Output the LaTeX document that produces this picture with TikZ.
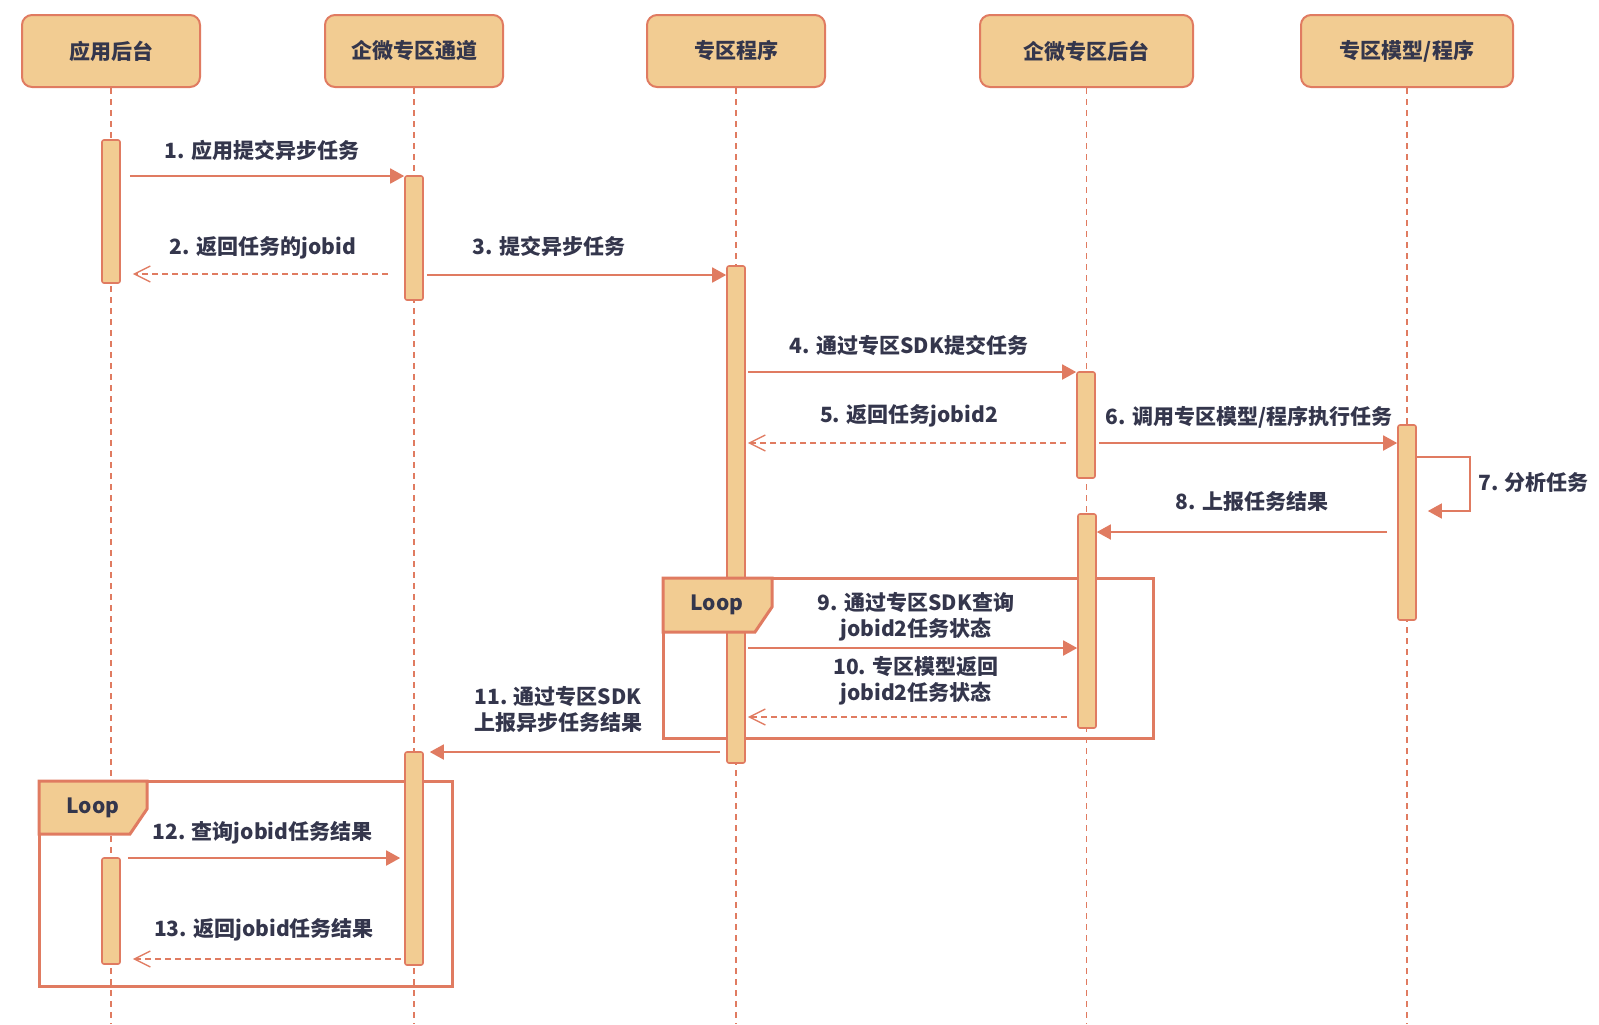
\documentclass[tikz,border=0pt]{standalone}
\usepackage{fontspec}
\setmainfont{Noto Sans CJK SC}
\usepackage{xcolor}
\definecolor{boxfill}{RGB}{242,204,146}
\definecolor{boxline}{RGB}{224,123,97}
\definecolor{labeltext}{RGB}{52,54,76}
\usetikzlibrary{arrows.meta,calc}

\begin{document}
\begin{tikzpicture}[
  x=0.5pt, y=-0.5pt,
  font=\fontsize{10.5}{13}\selectfont\bfseries,
  text=labeltext,
  head/.style={rectangle, rounded corners=5pt, draw=boxline, fill=boxfill,
               line width=1pt, minimum height=36pt, inner sep=0pt},
  life/.style={draw=boxline, line width=0.9pt, dash pattern=on 3pt off 2.5pt},
  bar/.style={rectangle, rounded corners=1pt, draw=boxline, fill=boxfill,
              line width=0.8pt, minimum width=9pt, inner sep=0pt},
  call/.style={-{Triangle[length=7pt,width=7.5pt]}, draw=boxline, line width=0.9pt},
  ret/.style={-{Straight Barb[length=8pt,width=8pt]}, draw=boxline,
              line width=0.7pt, dash pattern=on 3pt off 2pt},
  msg/.style={align=center, inner sep=0pt},
  loopbox/.style={draw=boxline, line width=1.5pt}
]
\useasboundingbox (0,0) rectangle (1599,1024);

%% Participants
\node[head, minimum width=89pt]    (app)   at (111,51)    {应用后台};
\node[head, minimum width=89pt]    (chan)  at (414,51)    {企微专区通道};
\node[head, minimum width=89pt]    (prog)  at (736,51)    {专区程序};
\node[head, minimum width=106.5pt] (back)  at (1086.5,51) {企微专区后台};
\node[head, minimum width=106pt]   (model) at (1407,51)   {专区模型/程序};

%% Lifelines
\foreach \p in {app,chan,prog,back,model}
  \draw[life] (\p.south) -- (\p.south |- 0,1024);

%% Loop frames
\draw[loopbox] (663,578) rectangle (1153,738);
\draw[loopbox] (39,781) rectangle (452,986);

%% Activation bars
\node[bar, minimum height=71.5pt]  (app1)   at (111,211.5)  {};
\node[bar, minimum height=62pt]    (chan1)  at (414,238)    {};
\node[bar, minimum height=248.5pt] (prog1)  at (736,514.5)  {};
\node[bar, minimum height=53pt]    (back1)  at (1086,425)   {};
\node[bar, minimum height=97.5pt]  (model1) at (1407,522.5) {};
\node[bar, minimum height=107pt]   (back2)  at (1087,621)   {};
\node[bar, minimum height=106.5pt] (chan2)  at (414,858.5)  {};
\node[bar, minimum height=53pt]    (app2)   at (111,911)    {};

%% Loop tags
\draw[loopbox, fill=boxfill] (663,578) -- (772,578) -- (772,607) -- (755,632) -- (663,632) -- cycle;
\node (loopa) at (717,605) {Loop};
\draw[loopbox, fill=boxfill] (39,781) -- (147,781) -- (147,809) -- (130,834) -- (39,834) -- cycle;
\node (loopb) at (93,808) {Loop};

%% Messages
\draw[call, shorten <=4.5pt] (app1.east |- 0,176) -- (chan1.west |- 0,176);
\node[msg] (m1) at (262,150) {1. 应用提交异步任务};

\draw[ret, shorten <=8pt, shorten >=6pt] (chan1.west |- 0,274) -- (app1.east |- 0,274);
\node[msg] (m2) at (263,248) {2. 返回任务的jobid};

\draw[call, shorten <=1.5pt] (chan1.east |- 0,275) -- (prog1.west |- 0,275);
\node[msg] (m3) at (549,246) {3. 提交异步任务};

\draw[call, shorten <=1pt] (prog1.east |- 0,372) -- (back1.west |- 0,372);
\node[msg] (m4) at (909,345) {4. 通过专区SDK提交任务};

\draw[ret, shorten <=5pt, shorten >=1pt] (back1.west |- 0,443) -- (prog1.east |- 0,443);
\node[msg] (m5) at (909,416) {5. 返回任务jobid2};

\draw[call, shorten <=1.5pt] (back1.east |- 0,443) -- (model1.west |- 0,443);
\node[msg] (m6) at (1249,417) {6. 调用专区模型/程序执行任务};

\coordinate (selfturn) at (1470,484);
\draw[call, line width=0.8pt, shorten >=5.5pt] (model1.east |- 0,457) -| (selfturn) |- (model1.east |- 0,511);
\node[msg, anchor=west] (m7) at (1478,483) {7. 分析任务};

\draw[call, shorten <=5pt] (model1.west |- 0,532) -- (back2.east |- 0,532);
\node[msg] (m8) at (1252,502) {8. 上报任务结果};

\draw[call, shorten <=1pt] (prog1.east |- 0,648) -- (back2.west |- 0,648);
\node[msg] (m9) at (916,616.5) {9. 通过专区SDK查询\\jobid2任务状态};

\draw[ret, shorten <=5pt, shorten >=1pt] (back2.west |- 0,717) -- (prog1.east |- 0,717);
\node[msg] (m10) at (916,680.5) {10. 专区模型返回\\jobid2任务状态};

\draw[call, shorten <=3pt, shorten >=3pt] (prog1.west |- 0,752) -- (chan2.east |- 0,752);
\node[msg] (m11) at (558,709) {11. 通过专区SDK\\上报异步任务结果};

\draw[call, shorten <=3.5pt, shorten >=2pt] (app2.east |- 0,858) -- (chan2.west |- 0,858);
\node[msg] (m12) at (262.5,833) {12. 查询jobid任务结果};

\draw[ret, shorten <=1.5pt, shorten >=6pt] (chan2.west |- 0,959) -- (app2.east |- 0,959);
\node[msg] (m13) at (264,930) {13. 返回jobid任务结果};

\end{tikzpicture}
\end{document}
